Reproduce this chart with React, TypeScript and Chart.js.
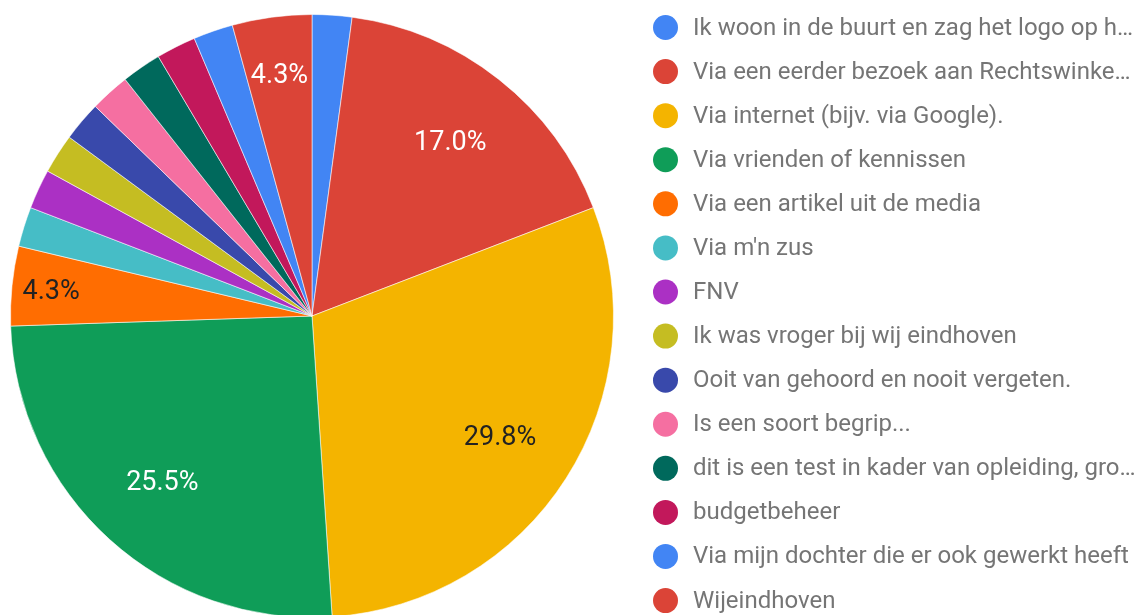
import React, { useEffect, useRef } from "react";
import { Chart, registerables } from "chart.js";

Chart.register(...registerables);

const categories: string[] = [
  "Ik woon in de buurt en zag het logo op h…",
  "Via een eerder bezoek aan Rechtswinke…",
  "Via internet (bijv. via Google).",
  "Via vrienden of kennissen",
  "Via een artikel uit de media",
  "Via m'n zus",
  "FNV",
  "Ik was vroger bij wij eindhoven",
  "Ooit van gehoord en nooit vergeten.",
  "Is een soort begrip...",
  "dit is een test in kader van opleiding, gro…",
  "budgetbeheer",
  "Via mijn dochter die er ook gewerkt heeft",
  "Wijeindhoven",
];

const responses: number[] = [1, 8, 14, 12, 2, 1, 1, 1, 1, 1, 1, 1, 1, 2];

const sliceColors: string[] = [
  "#4285F4",
  "#DB4437",
  "#F4B400",
  "#0F9D58",
  "#FF6D01",
  "#46BDC6",
  "#AB30C4",
  "#C5BD22",
  "#3949AB",
  "#F56FA1",
  "#00695C",
  "#C2185B",
  "#4285F4",
  "#DB4437",
];

function luminance(hex: string): number {
  const h = hex.replace("#", "");
  const c = [0, 2, 4].map((i) => parseInt(h.substr(i, 2), 16) / 255);
  const lin = c.map((v) => (v <= 0.03928 ? v / 12.92 : Math.pow((v + 0.055) / 1.055, 2.4)));
  return 0.2126 * lin[0] + 0.7152 * lin[1] + 0.0722 * lin[2];
}

const sliceLabelPlugin = {
  id: "sliceLabels",
  afterDatasetsDraw(chart: any) {
    const ctx = chart.ctx;
    const meta = chart.getDatasetMeta(0);
    const data = chart.data.datasets[0].data as number[];
    const total = data.reduce((a, b) => a + b, 0);
    ctx.save();
    ctx.font = "27px Roboto";
    ctx.textAlign = "center";
    ctx.textBaseline = "middle";
    meta.data.forEach((arc: any, i: number) => {
      const frac = data[i] / total;
      if (frac < 0.04) return;
      const mid = (arc.startAngle + arc.endAngle) / 2;
      const R = arc.outerRadius;
      let d = 0.74 * R;
      if (frac < 0.1) {
        d = R * (0.8 + 0.07 * Math.abs(Math.cos(mid)));
      }
      const x = arc.x + Math.cos(mid) * d;
      const y = arc.y + Math.sin(mid) * d;
      const col = sliceColors[i % sliceColors.length];
      ctx.fillStyle = luminance(col) > 0.3 ? "#222222" : "#ffffff";
      ctx.fillText((frac * 100).toFixed(1) + "%", x, y + 2);
    });
    ctx.restore();
  },
};

const legendPlugin = {
  id: "sideLegend",
  afterDraw(chart: any) {
    const ctx = chart.ctx;
    const labels = chart.data.labels as string[];
    const x0 = 665.5;
    const y0 = 27.5;
    const step = 44.08;
    ctx.save();
    ctx.font = "24px Roboto";
    ctx.textAlign = "left";
    ctx.textBaseline = "middle";
    labels.forEach((lab, i) => {
      const y = y0 + i * step;
      ctx.beginPath();
      ctx.arc(x0, y, 12.5, 0, Math.PI * 2);
      ctx.fillStyle = sliceColors[i % sliceColors.length];
      ctx.fill();
      ctx.fillStyle = "#757575";
      ctx.fillText(lab, 693, y + 1);
    });
    ctx.restore();
  },
};

export default function App() {
  const ref = useRef<HTMLCanvasElement | null>(null);
  useEffect(() => {
    if (!ref.current) return;
    const chart = new Chart(ref.current, {
      type: "pie",
      data: {
        labels: categories,
        datasets: [
          {
            data: responses,
            backgroundColor: sliceColors,
            borderColor: "rgba(255,255,255,0.55)",
            borderWidth: 1,
          },
        ],
      },
      options: {
        animation: false,
        responsive: false,
        maintainAspectRatio: false,
        layout: { padding: { left: 10, top: 14, right: 527, bottom: 2 } },
        plugins: {
          legend: { display: false },
          tooltip: { enabled: false },
        },
      },
      plugins: [sliceLabelPlugin, legendPlugin],
    });
    return () => chart.destroy();
  }, []);
  return (
    <div style={{ position: "fixed", left: 0, top: 0, width: 1141, height: 620, background: "#fff", overflow: "hidden" }}>
      <canvas ref={ref} width={1141} height={620} style={{ display: "block" }} />
    </div>
  );
}
